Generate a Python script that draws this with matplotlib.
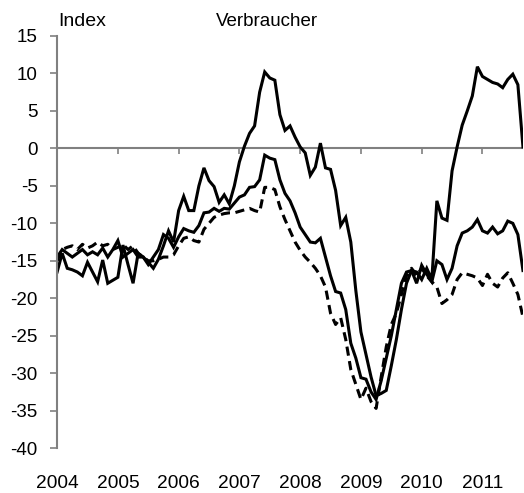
import numpy as np
import matplotlib.pyplot as plt

plt.rcParams['font.family'] = ['Liberation Sans', 'DejaVu Sans']

# Monatswerte Jan 2004 bis Sep 2011
start_year = 2004
years = [2004, 2005, 2006, 2007, 2008, 2009, 2010, 2011]
y_ticks = [15, 10, 5, 0, -5, -10, -15, -20, -25, -30, -35, -40]

series_a = [
    -16.5, -14, -16, -16.2, -16.5, -17, -15.2, -16.5, -17.8, -14.9, -18, -17.6,
    -17.2, -12.9, -15.5, -18, -14, -14.5, -15.2, -16, -14.8, -13, -11, -12.5,
    -8.3, -6.4, -8.3, -8.3, -5, -2.6, -4.3, -5.1, -7.2, -6.2, -7.4, -5,
    -1.8, 0.3, 2, 3, 7.5, 10.2, 9.4, 9.1, 4.5, 2.4, 3, 1.5,
    0.2, -0.6, -3.6, -2.5, 0.7, -2.6, -2.8, -5.6, -10.3, -9.2, -12.5, -19,
    -24.5, -27.5, -30.5, -33, -32.7, -32.3, -29, -25.5, -21.5, -18, -16.3, -16.5,
    -17.5, -16, -17.5, -7, -9.3, -9.6, -3, 0.2, 3.1, 5, 7, 10.9,
    9.6, 9.2, 8.8, 8.6, 8.1, 9.2, 9.9, 8.5, 0.2,
]

series_b = [
    -14.5, -13.5, -14, -14.5, -14, -13.5, -14.2, -13.8, -14.2, -13.3, -14.5, -13.5,
    -12.3, -14.5, -14, -13.5, -14.5, -14.5, -15.5, -14.5, -13.5, -11.5, -12, -13.2,
    -11.8, -10.7, -11, -11.2, -10.3, -8.6, -8.5, -8, -8.4, -8, -8.1, -7.3,
    -6.5, -6.2, -5.2, -5.1, -4.2, -0.9, -1.3, -1.5, -4.2, -6, -7, -8.6,
    -10.5, -11.5, -12.5, -12.6, -12, -14.5, -17, -19.1, -19.3, -21.5, -26, -28,
    -30.6, -30.8, -32.5, -33.5, -31, -28, -25, -21.5, -18, -16.5, -16.3, -18,
    -15.6, -16.8, -17.8, -15, -15.5, -17.5, -16, -13, -11.3, -11, -10.5, -9.5,
    -11, -11.3, -10.5, -11.4, -11, -9.7, -10, -11.5, -16.3,
]

series_c = [
    -15, -13.5, -13.2, -13, -13.5, -12.8, -13.3, -13, -12.5, -13, -12.8, -13.5,
    -13.2, -12.8, -13.5, -13, -14, -14.5, -15, -15, -14.8, -14.5, -14.5, -14.2,
    -13, -12, -11.8, -12.3, -12.5, -10.8, -10, -9.2, -8.9, -8.7, -8.6, -8.6,
    -8.4, -8.2, -8, -8.3, -8.5, -5.2, -5.2, -5.5, -7.8, -9.5, -11, -12.5,
    -13.6, -14.5, -15.2, -16, -17, -18.5, -22, -23.5, -22.6, -25.5, -29.5, -31.5,
    -33.5, -32, -33.8, -34.7, -30.5, -26.5, -23.5, -22, -19.5, -17, -16, -17,
    -16, -17, -17.8, -18.5, -20.7, -20.2, -19.5, -17.5, -16.6, -16.8, -17, -17.3,
    -18.3, -16.8, -18, -18.5, -17.3, -16.6, -18, -19.5, -22.5,
]

t = start_year + np.arange(len(series_a)) / 12.0
grey = '#808080'

fig = plt.figure(figsize=(5.24, 4.93), dpi=100)
ax = fig.add_axes([0.109, 0.091, 0.889, 0.836])

ax.plot(t, series_a, color='black', lw=2.2, solid_joinstyle='miter')
ax.plot(t, series_b, color='black', lw=2.2, solid_joinstyle='miter')
ax.plot(t, series_c, color='black', lw=2.2, dashes=(3, 1.8))

ax.axhline(0, color=grey, lw=1.5, zorder=0)

ax.set_xlim(t[0], t[-1])
ax.set_ylim(-40, 15)
ax.set_yticks(y_ticks)
ax.set_yticklabels([str(v) for v in y_ticks])

for s in ['top', 'right', 'bottom']:
    ax.spines[s].set_visible(False)
ax.spines['left'].set_color(grey)
ax.spines['left'].set_linewidth(1.5)

ax.tick_params(axis='y', direction='out', length=5, width=1.2, color=grey,
               labelsize=13.5, pad=9)
ax.set_xticks(years)
ax.set_xticklabels([str(y) for y in years])
ax.tick_params(axis='x', length=0, labelsize=13.8, pad=19)

# kleine Striche an der Nulllinie
zero_pos = (0 - (-40)) / (15 - (-40))
sec = ax.secondary_xaxis(zero_pos)
sec.set_xticks(years[1:])
sec.tick_params(axis='x', direction='out', length=4, width=1.2, color=grey,
                labelbottom=False, labeltop=False, bottom=True, top=False)
sec.xaxis.set_ticks_position('bottom')
sec.set_xticklabels([])
sec.spines['bottom'].set_visible(False)
sec.spines['top'].set_visible(False)

fig.text(58 / 524, 1 - 22 / 493, 'Index', fontsize=14, va='center', ha='left')
fig.text(267 / 524, 1 - 22 / 493, 'Verbraucher', fontsize=13.5, va='center', ha='center')

fig.savefig('out.png', dpi=100)
